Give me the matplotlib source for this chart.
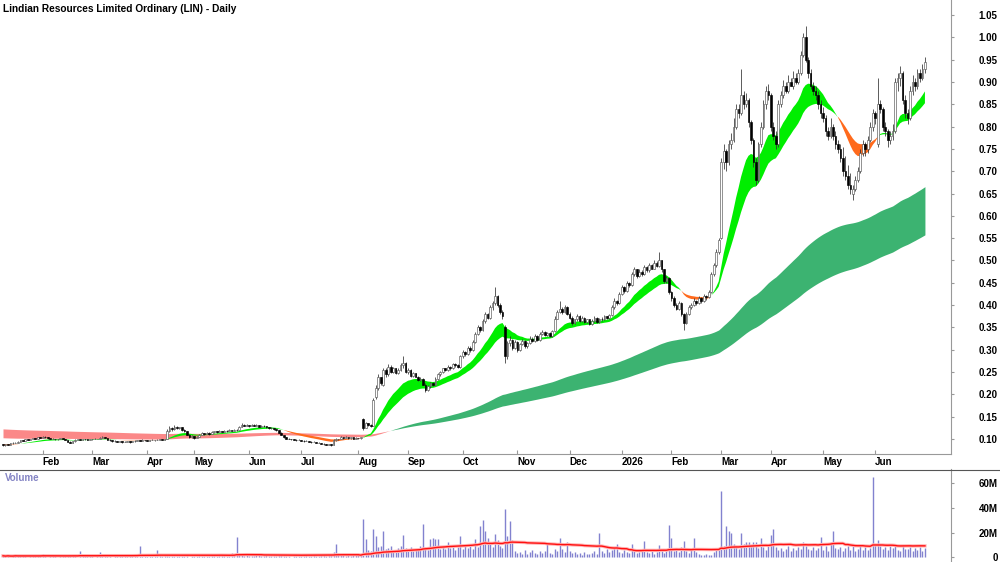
import numpy as np
import pandas as pd
import matplotlib
matplotlib.use("Agg")
import matplotlib.pyplot as plt
from matplotlib.lines import Line2D

plt.rcParams['font.family'] = ['Liberation Sans', 'DejaVu Sans']

title = "Lindian Resources Limited Ordinary (LIN) - Daily"

# daily candles, mid Jan 2025 .. late Jun 2026, prices in cents
opens = [
    8.8, 8.6, 8.8, 8.7, 9.0, 9.2, 9.1, 9.4, 9.7, 9.6,
    9.9, 9.8, 10.0, 10.2, 10.1, 10.4, 10.3, 10.5, 10.4, 10.2,
    10.0, 10.1, 9.9, 10.0, 10.2, 10.0, 9.8, 9.4, 9.2, 9.5,
    9.8, 9.9, 9.8, 10.0, 9.9, 9.8, 10.0, 9.9, 10.1, 10.0,
    10.3, 10.5, 10.3, 9.8, 9.7, 9.5, 9.6, 9.4, 9.5, 9.3,
    9.4, 9.5, 9.3, 9.5, 9.6, 9.7, 9.6, 9.8, 9.7, 9.6,
    9.7, 9.8, 9.7, 9.8, 9.9, 9.8, 10.0, 11.8, 12.5, 12.2,
    12.7, 12.4, 12.6, 12.1, 11.8, 11.0, 10.4, 10.6, 10.3, 10.5,
    11.0, 11.3, 11.1, 11.4, 11.2, 11.5, 11.7, 11.5, 11.8, 11.6,
    11.9, 11.7, 12.0, 11.8, 12.1, 12.0, 12.8, 13.2, 13.0, 13.1,
    12.9, 13.2, 13.0, 13.1, 12.8, 13.0, 12.9, 12.6, 12.4, 12.5,
    12.2, 12.0, 11.4, 11.0, 10.4, 10.1, 10.0, 9.9, 9.8, 9.7,
    9.8, 9.6, 9.5, 9.6, 9.4, 9.3, 9.4, 9.2, 9.1, 8.9,
    8.8, 8.7, 8.8, 8.6, 9.7, 10.0, 9.9, 10.4, 10.3, 10.5,
    10.2, 10.4, 10.1, 10.3, 10.2, 14.5, 12.5, 13.5, 13.2, 13.0,
    19.5, 21.5, 23.8, 22.0, 25.5, 24.5, 26.2, 25.0, 25.8, 24.8,
    25.5, 26.5, 27.0, 25.0, 25.5, 24.2, 24.8, 24.0, 23.2, 23.5,
    22.2, 21.0, 21.8, 22.5, 22.2, 23.5, 24.5, 25.0, 25.8, 25.5,
    26.2, 25.8, 26.8, 26.5, 26.2, 28.5, 29.5, 29.0, 30.5, 30.0,
    31.8, 33.5, 35.0, 34.5, 36.5, 38.0, 37.2, 39.5, 40.5, 42.0,
    40.0, 38.5, 35.0, 28.5, 31.5, 32.2, 30.5, 31.8, 30.0, 31.2,
    32.0, 30.8, 31.5, 32.5, 32.0, 33.0, 32.2, 33.5, 34.0, 33.2,
    33.8, 33.0, 34.2, 37.0, 38.5, 39.2, 38.5, 39.5, 38.0, 37.2,
    36.0, 36.8, 37.5, 36.5, 37.2, 36.2, 36.8, 35.8, 36.5, 37.2,
    36.2, 37.0, 36.8, 37.5, 37.2, 37.8, 39.5, 41.0, 40.5, 42.5,
    44.0, 43.2, 45.0, 44.5, 47.0, 48.0, 46.5, 47.5, 47.0, 48.5,
    47.8, 49.0, 48.2, 49.5, 48.8, 50.0, 48.0, 45.5, 46.0, 43.0,
    41.5, 40.0, 39.2, 40.5, 38.0, 36.0, 38.0, 39.5, 40.0, 41.0,
    40.5, 41.5, 41.0, 42.0, 41.8, 43.0, 47.0, 49.0, 52.0, 55.0,
    72.0, 74.5, 72.0, 76.0, 77.0, 80.0, 84.0, 83.0, 87.0, 85.0,
    86.0, 81.0, 77.0, 72.0, 68.0, 76.0, 80.0, 85.0, 88.0, 87.0,
    80.0, 78.0, 76.0, 85.0, 87.0, 89.0, 88.0, 90.0, 89.0, 91.0,
    90.0, 92.0, 96.0, 100.0, 95.0, 92.0, 89.0, 88.0, 87.0, 85.0,
    83.0, 82.0, 79.0, 78.0, 80.0, 78.0, 76.0, 75.0, 73.0, 70.0,
    69.0, 67.0, 65.0, 66.0, 68.0, 70.0, 74.0, 76.0, 75.0, 77.0,
    80.0, 83.0, 76.0, 85.0, 84.0, 80.0, 79.0, 77.0, 78.0, 79.0,
    90.0, 91.0, 92.0, 86.0, 83.0, 82.0, 88.0, 90.0, 89.0, 92.0,
    91.0, 93.0,
]
highs = [
    8.9, 8.9, 8.9, 9.1, 9.3, 9.3, 9.5, 9.8, 9.8, 10.0,
    10.0, 10.1, 10.3, 10.3, 10.5, 10.5, 10.7, 10.6, 10.5, 10.3,
    10.2, 10.1, 10.1, 10.3, 10.2, 10.1, 9.8, 9.5, 9.6, 9.9,
    10.0, 9.9, 10.1, 10.0, 10.0, 10.1, 10.0, 10.2, 10.1, 10.4,
    10.7, 10.5, 10.3, 9.9, 9.7, 9.7, 9.6, 9.6, 9.5, 9.5,
    9.6, 9.5, 9.6, 9.7, 9.8, 9.7, 9.9, 9.8, 9.8, 9.8,
    9.9, 9.8, 9.9, 10.0, 10.0, 10.1, 12.2, 13.0, 12.8, 13.1,
    12.9, 12.8, 12.6, 12.2, 11.8, 11.1, 10.8, 10.7, 10.6, 11.2,
    11.5, 11.4, 11.6, 11.5, 11.7, 11.9, 11.8, 12.0, 11.9, 12.1,
    12.0, 12.2, 12.1, 12.3, 12.2, 13.0, 13.5, 13.3, 13.4, 13.2,
    13.4, 13.3, 13.3, 13.1, 13.1, 13.1, 12.9, 12.7, 12.6, 12.5,
    12.3, 12.0, 11.5, 11.0, 10.5, 10.2, 10.1, 10.0, 9.9, 9.9,
    9.8, 9.7, 9.7, 9.6, 9.5, 9.5, 9.4, 9.3, 9.1, 9.0,
    8.9, 8.9, 8.8, 9.9, 10.2, 10.1, 10.6, 10.5, 10.7, 10.5,
    10.5, 10.4, 10.4, 10.3, 10.5, 14.8, 13.8, 13.6, 13.4, 19.2,
    22.0, 24.5, 24.0, 26.0, 26.0, 26.8, 26.5, 26.2, 26.0, 25.8,
    27.0, 28.5, 27.2, 25.8, 25.6, 25.0, 24.9, 24.2, 23.8, 23.6,
    22.5, 22.0, 22.8, 22.7, 23.8, 24.8, 25.3, 26.0, 26.0, 26.5,
    26.4, 27.0, 27.0, 26.7, 28.8, 30.0, 29.8, 30.8, 30.8, 32.2,
    34.0, 35.5, 35.3, 37.0, 38.5, 38.3, 40.0, 41.0, 44.0, 42.2,
    40.5, 39.0, 35.5, 32.0, 33.0, 32.5, 32.2, 32.0, 31.5, 32.5,
    32.2, 31.8, 33.0, 32.8, 33.5, 33.2, 34.0, 34.5, 34.2, 34.0,
    34.0, 34.5, 37.5, 39.0, 41.0, 39.5, 40.0, 39.8, 38.4, 37.5,
    37.0, 38.0, 37.8, 37.5, 37.4, 37.0, 37.0, 36.8, 37.5, 37.4,
    37.2, 37.3, 37.8, 37.6, 38.0, 40.0, 41.5, 41.2, 43.0, 44.5,
    44.2, 45.5, 45.2, 47.5, 48.5, 48.2, 48.0, 47.8, 49.0, 48.7,
    49.5, 49.2, 50.0, 49.8, 52.0, 50.2, 48.2, 46.5, 46.2, 43.2,
    42.0, 40.5, 41.0, 40.6, 38.2, 38.5, 40.0, 40.5, 41.5, 41.2,
    42.0, 41.8, 42.5, 42.3, 43.5, 47.5, 49.5, 52.5, 55.0, 73.0,
    76.0, 75.0, 77.0, 78.5, 82.0, 85.0, 85.0, 93.0, 88.0, 87.5,
    86.5, 81.5, 77.5, 73.0, 76.5, 81.0, 86.0, 89.0, 89.5, 87.5,
    81.0, 79.0, 86.0, 88.0, 90.5, 90.0, 91.5, 91.0, 92.5, 92.0,
    93.0, 97.0, 101.0, 102.5, 95.5, 93.0, 90.0, 89.0, 88.0, 86.0,
    84.5, 82.5, 80.0, 82.0, 80.5, 79.0, 77.0, 76.0, 75.5, 73.5,
    71.5, 69.5, 67.0, 69.0, 71.0, 75.0, 77.0, 76.5, 78.0, 81.0,
    84.0, 83.5, 91.0, 86.0, 84.5, 81.0, 79.5, 79.0, 80.5, 91.0,
    92.0, 93.5, 92.5, 87.0, 84.0, 89.0, 91.5, 91.0, 93.0, 93.0,
    94.0, 95.5,
]
lows = [
    8.5, 8.5, 8.6, 8.7, 8.9, 9.0, 9.1, 9.3, 9.5, 9.6,
    9.7, 9.8, 9.9, 10.0, 10.1, 10.2, 10.3, 10.3, 10.1, 9.9,
    9.9, 9.8, 9.8, 10.0, 9.9, 9.7, 9.3, 9.1, 9.2, 9.4,
    9.7, 9.7, 9.8, 9.8, 9.7, 9.8, 9.8, 9.9, 9.9, 10.0,
    10.2, 10.2, 9.7, 9.6, 9.4, 9.4, 9.3, 9.3, 9.2, 9.3,
    9.3, 9.2, 9.3, 9.4, 9.5, 9.5, 9.6, 9.6, 9.5, 9.6,
    9.7, 9.6, 9.7, 9.7, 9.7, 9.8, 10.0, 11.6, 11.9, 12.1,
    12.2, 12.2, 11.9, 11.6, 10.8, 10.2, 10.3, 10.1, 10.2, 10.5,
    10.9, 11.0, 11.1, 11.0, 11.2, 11.4, 11.4, 11.5, 11.5, 11.6,
    11.6, 11.7, 11.7, 11.8, 11.9, 12.0, 12.7, 12.9, 12.9, 12.8,
    12.9, 12.9, 12.9, 12.7, 12.8, 12.8, 12.5, 12.3, 12.3, 12.1,
    11.9, 11.3, 10.9, 10.3, 10.0, 9.9, 9.8, 9.7, 9.6, 9.7,
    9.5, 9.4, 9.5, 9.3, 9.2, 9.3, 9.1, 9.0, 8.8, 8.7,
    8.6, 8.7, 8.5, 8.6, 9.6, 9.8, 9.9, 10.1, 10.2, 10.1,
    10.1, 10.0, 10.0, 10.0, 10.1, 12.0, 12.4, 13.0, 12.8, 12.9,
    19.0, 21.0, 22.0, 21.8, 24.0, 24.2, 24.8, 24.8, 24.5, 24.6,
    25.2, 26.0, 24.8, 24.6, 24.0, 24.0, 23.8, 23.0, 23.0, 22.0,
    20.5, 20.8, 21.5, 21.9, 22.0, 23.2, 24.2, 24.8, 25.2, 25.3,
    25.5, 25.7, 26.2, 25.9, 26.0, 28.2, 28.6, 28.8, 29.6, 29.8,
    31.5, 33.2, 34.0, 34.2, 36.0, 36.8, 37.0, 39.0, 40.0, 39.5,
    38.0, 37.0, 27.0, 28.0, 30.8, 30.0, 30.2, 29.5, 29.8, 31.0,
    30.5, 30.5, 31.2, 31.8, 31.8, 32.0, 32.0, 33.2, 33.0, 33.0,
    32.8, 32.8, 34.0, 36.8, 38.2, 38.0, 38.3, 37.8, 36.8, 35.5,
    35.8, 36.5, 36.2, 36.2, 36.0, 36.0, 35.5, 35.5, 36.2, 36.0,
    36.0, 36.5, 36.6, 36.8, 37.0, 37.6, 39.2, 40.0, 40.2, 42.2,
    42.8, 43.0, 44.0, 44.2, 46.5, 46.0, 46.2, 46.5, 46.8, 47.5,
    47.5, 48.0, 48.0, 48.5, 48.5, 47.5, 45.0, 45.0, 42.5, 41.0,
    39.5, 38.8, 39.0, 37.5, 34.5, 35.8, 37.8, 39.2, 39.8, 40.0,
    40.2, 40.5, 40.8, 41.2, 41.5, 42.8, 46.5, 48.5, 51.5, 54.8,
    70.5, 70.0, 71.5, 75.0, 76.5, 79.5, 82.0, 82.5, 84.0, 84.5,
    80.0, 76.0, 71.0, 67.0, 67.5, 75.5, 79.5, 84.0, 86.0, 79.0,
    77.0, 75.0, 75.5, 84.5, 86.5, 87.5, 87.5, 89.0, 88.5, 89.5,
    89.5, 91.5, 95.5, 94.5, 91.0, 88.5, 87.0, 86.0, 84.0, 82.0,
    81.0, 78.0, 77.0, 77.5, 77.0, 75.0, 74.0, 72.0, 69.0, 68.0,
    66.0, 65.0, 63.5, 65.5, 67.5, 69.5, 73.5, 73.5, 74.0, 76.5,
    79.0, 80.5, 75.5, 83.0, 79.0, 78.0, 75.5, 76.0, 77.0, 78.5,
    88.0, 89.0, 85.0, 82.0, 80.5, 81.5, 87.0, 88.0, 88.5, 90.0,
    90.5, 92.0,
]
closes = [
    8.6, 8.8, 8.7, 9.0, 9.2, 9.1, 9.4, 9.7, 9.6, 9.9,
    9.8, 10.0, 10.2, 10.1, 10.4, 10.3, 10.5, 10.4, 10.2, 10.0,
    10.1, 9.9, 10.0, 10.2, 10.0, 9.8, 9.4, 9.2, 9.5, 9.8,
    9.9, 9.8, 10.0, 9.9, 9.8, 10.0, 9.9, 10.1, 10.0, 10.3,
    10.5, 10.3, 9.8, 9.7, 9.5, 9.6, 9.4, 9.5, 9.3, 9.4,
    9.5, 9.3, 9.5, 9.6, 9.7, 9.6, 9.8, 9.7, 9.6, 9.7,
    9.8, 9.7, 9.8, 9.9, 9.8, 10.0, 11.8, 12.5, 12.2, 12.7,
    12.4, 12.6, 12.1, 11.8, 11.0, 10.4, 10.6, 10.3, 10.5, 11.0,
    11.3, 11.1, 11.4, 11.2, 11.5, 11.7, 11.5, 11.8, 11.6, 11.9,
    11.7, 12.0, 11.8, 12.1, 12.0, 12.8, 13.2, 13.0, 13.1, 12.9,
    13.2, 13.0, 13.1, 12.8, 13.0, 12.9, 12.6, 12.4, 12.5, 12.2,
    12.0, 11.4, 11.0, 10.4, 10.1, 10.0, 9.9, 9.8, 9.7, 9.8,
    9.6, 9.5, 9.6, 9.4, 9.3, 9.4, 9.2, 9.1, 8.9, 8.8,
    8.7, 8.8, 8.6, 9.7, 10.0, 9.9, 10.4, 10.3, 10.5, 10.2,
    10.4, 10.1, 10.3, 10.2, 10.4, 12.5, 13.5, 13.2, 13.0, 18.8,
    21.5, 23.8, 22.5, 25.5, 24.5, 26.2, 25.0, 25.8, 24.8, 25.5,
    26.5, 27.0, 25.0, 25.5, 24.2, 24.8, 24.0, 23.2, 23.5, 22.2,
    21.0, 21.8, 22.5, 22.2, 23.5, 24.5, 25.0, 25.8, 25.5, 26.2,
    25.8, 26.8, 26.5, 26.2, 28.5, 29.5, 29.0, 30.5, 30.0, 31.8,
    33.5, 35.0, 34.5, 36.5, 38.0, 37.2, 39.5, 40.5, 42.0, 40.0,
    38.5, 37.5, 28.5, 31.5, 32.2, 30.5, 31.8, 30.0, 31.2, 32.0,
    30.8, 31.5, 32.5, 32.0, 33.0, 32.2, 33.5, 34.0, 33.2, 33.8,
    33.0, 34.2, 37.0, 38.5, 39.2, 38.5, 39.5, 38.0, 37.2, 36.0,
    36.8, 37.5, 36.5, 37.2, 36.2, 36.8, 35.8, 36.5, 37.2, 36.2,
    37.0, 36.8, 37.5, 37.2, 37.8, 39.5, 41.0, 40.5, 42.5, 44.0,
    43.2, 45.0, 44.5, 47.0, 48.0, 46.5, 47.5, 47.0, 48.5, 47.8,
    49.0, 48.2, 49.5, 48.8, 50.0, 48.0, 45.5, 46.0, 43.0, 41.5,
    40.0, 39.2, 40.5, 38.0, 36.0, 38.0, 39.5, 40.0, 41.0, 40.5,
    41.5, 41.0, 42.0, 41.8, 43.0, 47.0, 49.0, 52.0, 54.5, 72.0,
    74.5, 72.0, 76.0, 77.0, 80.0, 84.0, 83.0, 87.0, 85.0, 86.0,
    81.0, 77.0, 72.0, 68.0, 76.0, 80.0, 85.0, 88.0, 87.0, 80.0,
    78.0, 76.0, 85.0, 87.0, 89.0, 88.0, 90.0, 89.0, 91.0, 90.0,
    92.0, 96.0, 100.0, 95.0, 92.0, 89.0, 88.0, 87.0, 85.0, 83.0,
    82.0, 79.0, 78.0, 80.0, 78.0, 76.0, 75.0, 73.0, 70.0, 69.0,
    67.0, 66.0, 66.0, 68.0, 70.0, 74.0, 76.0, 75.0, 77.0, 80.0,
    83.0, 82.0, 85.0, 84.0, 80.0, 79.0, 77.0, 78.0, 79.0, 90.0,
    91.0, 92.0, 86.0, 83.0, 82.0, 88.0, 90.0, 89.0, 92.0, 91.0,
    93.0, 94.5,
]
# volume in millions of shares
volume_m = [
    1.2, 0.8, 1.5, 0.6, 1.0, 2.0, 0.7, 1.3, 0.9, 1.8, 0.5, 1.1, 1.6, 0.8, 1.2, 0.9,
    2.7, 1.0, 0.6, 1.4, 0.8, 1.1, 0.5, 1.9, 0.7, 1.2, 1.5, 2.2, 0.9, 1.3, 0.6, 5.4,
    1.0, 0.7, 1.5, 0.8, 1.2, 0.6, 2.0, 4.6, 1.8, 1.1, 0.9, 1.4, 0.6, 1.0, 0.8, 1.3,
    0.7, 1.1, 2.4, 1.6, 3.0, 1.2, 2.8, 9.0, 2.5, 1.4, 0.9, 1.8, 1.1, 2.2, 6.0, 1.5,
    1.0, 1.7, 2.5, 1.2, 0.8, 1.4, 1.0, 0.7, 1.3, 0.9, 1.6, 0.6, 1.1, 0.8, 1.2, 2.0,
    1.4, 1.0, 0.7, 1.2, 2.6, 1.5, 1.1, 2.8, 1.6, 2.1, 0.9, 1.3, 3.2, 2.4, 16.8, 3.5,
    2.6, 1.4, 1.9, 1.0, 1.2, 0.8, 1.5, 2.6, 1.1, 0.9, 1.6, 1.0, 0.7, 1.3, 0.9, 2.2,
    1.5, 1.1, 0.8, 1.3, 0.6, 1.0, 0.9, 1.4, 0.7, 1.1, 1.6, 0.8, 1.2, 1.9, 0.9, 1.3,
    1.6, 2.1, 1.2, 2.8, 1.5, 4.0, 10.8, 3.2, 2.0, 2.6, 1.4, 1.8, 1.2, 3.0, 2.2, 1.6,
    2.5, 31.0, 14.6, 6.0, 5.2, 22.7, 17.0, 8.0, 9.5, 21.6, 6.5, 7.2, 8.8, 5.5, 6.3, 7.8,
    9.0, 17.8, 7.5, 6.0, 8.2, 5.5, 6.8, 7.0, 9.2, 27.0, 8.5, 6.2, 15.0, 16.0, 15.0, 14.5,
    7.0, 8.8, 6.5, 12.7, 7.2, 9.5, 5.8, 8.0, 17.0, 6.6, 9.0, 7.5, 10.5, 6.8, 14.6, 8.2,
    25.0, 30.0, 21.0, 16.0, 12.7, 8.5, 19.0, 14.0, 9.2, 7.5, 39.0, 17.0, 29.5, 14.0, 5.5, 3.8,
    4.5, 3.0, 5.8, 2.6, 4.2, 6.0, 3.5, 2.8, 5.0, 3.2, 4.8, 11.0, 3.6, 2.5, 6.8, 5.2,
    15.4, 7.0, 4.5, 12.7, 5.5, 3.2, 4.0, 2.8, 3.6, 2.2, 4.5, 3.0, 2.5, 3.8, 5.2, 2.6,
    20.0, 4.8, 3.2, 6.5, 4.0, 5.8, 7.2, 11.0, 4.5, 3.6, 6.0, 4.2, 3.4, 10.8, 5.0, 3.8,
    4.6, 6.2, 13.0, 4.0, 3.2, 5.5, 2.8, 4.4, 10.0, 5.6, 3.8, 4.8, 26.0, 15.4, 5.2, 6.8,
    4.2, 8.5, 13.0, 5.0, 3.6, 7.0, 15.4, 4.5, 3.0, 2.2, 1.8, 2.5, 1.6, 2.0, 4.5, 5.8,
    6.5, 54.0, 9.0, 25.0, 21.6, 19.5, 10.5, 8.0, 6.5, 20.0, 11.0, 12.7, 12.7, 9.5, 12.7, 12.7,
    7.5, 16.0, 8.2, 6.0, 9.0, 18.0, 22.7, 8.5, 6.2, 7.8, 5.5, 6.8, 9.5, 4.8, 7.2, 5.6,
    8.0, 6.5, 12.7, 9.2, 7.0, 5.8, 8.5, 6.2, 7.5, 16.8, 6.0, 8.8, 5.5, 12.7, 21.6, 7.2,
    6.5, 8.0, 5.2, 7.5, 9.0, 6.2, 8.8, 5.5, 7.0, 9.5, 6.0, 8.2, 5.8, 7.6, 65.0, 10.5,
    14.0, 9.2, 6.8, 8.5, 5.6, 9.0, 7.2, 8.8, 6.0, 5.5, 9.2, 7.0, 6.5, 8.0, 4.8, 7.5,
    6.2, 8.6, 5.5, 7.8,
]

month_labels = ["Feb", "Mar", "Apr", "May", "Jun", "Jul", "Aug", "Sep", "Oct",
                "Nov", "Dec", "2026", "Feb", "Mar", "Apr", "May", "Jun"]
month_index = [16, 36, 58, 77, 99, 120, 143, 163, 185, 207, 228, 249, 269, 289, 309, 330, 351]

price_ticks = [0.10, 0.15, 0.20, 0.25, 0.30, 0.35, 0.40, 0.45, 0.50, 0.55,
               0.60, 0.65, 0.70, 0.75, 0.80, 0.85, 0.90, 0.95, 1.00, 1.05]
volume_ticks = [0, 20, 40, 60]
volume_tick_labels = ["0", "20M", "40M", "60M"]

# moving-average ribbons (EMA spans) and their values at the left edge, cents
short_spans = (16, 28)
short_start = (8.6, 8.8)
long_spans = (150, 240)
long_start = (10.3, 12.3)


def ema(values, span, start):
    a = 2.0 / (span + 1)
    out = np.empty(len(values))
    prev = start
    for i, v in enumerate(values):
        prev = prev + a * (v - prev)
        out[i] = prev
    return out


o = np.array(opens) / 100
h = np.array(highs) / 100
lo = np.array(lows) / 100
c = np.array(closes) / 100
vol = np.array(volume_m)
x = np.arange(len(c))

s_fast = ema(closes, short_spans[0], short_start[0]) / 100
s_slow = ema(closes, short_spans[1], short_start[1]) / 100
l_fast = ema(closes, long_spans[0], long_start[0]) / 100
l_slow = ema(closes, long_spans[1], long_start[1]) / 100
vol_avg = pd.Series(vol).rolling(50, min_periods=1).mean()

W, H = 1000, 562
fig = plt.figure(figsize=(10, 5.62), dpi=100)
ax = fig.add_axes([0, 108 / H, 951 / W, 454 / H])
axv = fig.add_axes([0, 0, 951 / W, 92.7 / H])

x_lo, x_hi = -3 / 2.485, 948 / 2.485

# long ribbon
up = l_fast >= l_slow
ax.fill_between(x, np.minimum(l_fast, l_slow), np.maximum(l_fast, l_slow), where=up,
                interpolate=True, color='#3cb371', lw=0, zorder=1)
ax.fill_between(x, np.minimum(l_fast, l_slow), np.maximum(l_fast, l_slow), where=~up,
                interpolate=True, color='#fb8888', lw=0, zorder=1)
# short ribbon
up = s_fast >= s_slow
ax.fill_between(x, np.minimum(s_fast, s_slow), np.maximum(s_fast, s_slow), where=up,
                interpolate=True, color='#00ee00', lw=0, zorder=2)
ax.fill_between(x, np.minimum(s_fast, s_slow), np.maximum(s_fast, s_slow), where=~up,
                interpolate=True, color='#ff6a1c', lw=0, zorder=2)

# candles: hollow up days, filled down days
rising = c >= o
ax.vlines(x, lo, h, color='#303030', lw=0.55, zorder=3)
body_lo = np.minimum(o, c)
body_h = np.maximum(np.abs(c - o), 0.0008)
ax.bar(x[rising], body_h[rising], bottom=body_lo[rising], width=0.7, color='white',
       edgecolor='#555555', lw=0.45, zorder=4)
ax.bar(x[~rising], body_h[~rising], bottom=body_lo[~rising], width=0.7, color='black',
       edgecolor='black', lw=0.45, zorder=4)

ax.set_xlim(x_lo, x_hi)
ax.set_ylim(0.0664, 1.0837)
for s in ['left', 'top']:
    ax.spines[s].set_visible(False)
for s in ['right', 'bottom']:
    ax.spines[s].set_color('#999999')
ax.yaxis.tick_right()
ax.set_yticks(price_ticks)
ax.set_yticklabels([f"{p:.2f}" for p in price_ticks])
ax.tick_params(axis='y', direction='out', length=2, color='#999999', pad=31.5,
               labelsize=7)
for lab in ax.get_yticklabels():
    lab.set_horizontalalignment('right')
    lab.set_fontweight('bold')
ax.set_xticks(month_index)
ax.set_xticklabels(month_labels)
ax.tick_params(axis='x', direction='in', length=3, color='#999999', pad=2.5,
               labelsize=7)
for lab in ax.get_xticklabels():
    lab.set_horizontalalignment('left')
    lab.set_fontweight('bold')

# volume panel
axv.vlines(x, 0, vol, color='#8282cf', lw=1.0, zorder=2)
axv.plot(x, vol_avg, color='#ffb4b4', lw=2.4, zorder=3)
axv.plot(x, vol_avg, color='#ff1010', lw=1.0, zorder=4)
axv.set_xlim(x_lo, x_hi)
axv.set_ylim(-3.8, 71.3)
for s in ['left', 'top', 'bottom']:
    axv.spines[s].set_visible(False)
axv.spines['right'].set_color('#999999')
axv.set_xticks([])
axv.yaxis.tick_right()
axv.set_yticks(volume_ticks)
axv.set_yticklabels(volume_tick_labels)
axv.tick_params(axis='y', direction='out', length=2, color='#999999', pad=31.5,
                labelsize=7)
for lab in axv.get_yticklabels():
    lab.set_horizontalalignment('right')
    lab.set_fontweight('bold')

fig.add_artist(Line2D([0, 1], [1 - 469.5 / H, 1 - 469.5 / H], color='#555555', lw=0.8))
fig.text(3 / W, 1 - 9 / H, title, fontsize=7.3, fontweight='bold', va='center', ha='left')
fig.text(5 / W, 1 - 478 / H, "Volume", fontsize=7, fontweight='bold', color='#8484c4',
         va='center', ha='left')

fig.savefig("out.png", dpi=100)
